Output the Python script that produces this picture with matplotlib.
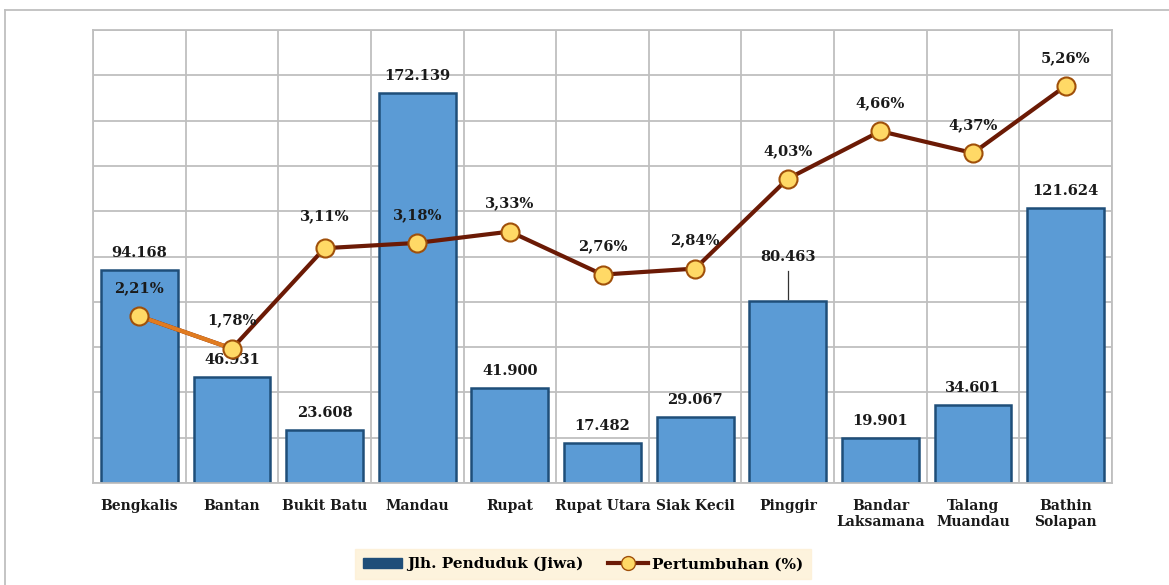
import matplotlib.pyplot as plt
from matplotlib.lines import Line2D
from matplotlib.patches import Patch
import numpy as np

categories = ["Bengkalis", "Bantan", "Bukit Batu", "Mandau", "Rupat", "Rupat Utara",
              "Siak Kecil", "Pinggir", "Bandar\nLaksamana", "Talang\nMuandau", "Bathin\nSolapan"]
penduduk = [94168, 46931, 23608, 172139, 41900, 17482, 29067, 80463, 19901, 34601, 121624]
penduduk_labels = ["94.168", "46.931", "23.608", "172.139", "41.900", "17.482",
                   "29.067", "80.463", "19.901", "34.601", "121.624"]
pertumbuhan = [2.21, 1.78, 3.11, 3.18, 3.33, 2.76, 2.84, 4.03, 4.66, 4.37, 5.26]
pertumbuhan_labels = ["2,21%", "1,78%", "3,11%", "3,18%", "3,33%", "2,76%",
                      "2,84%", "4,03%", "4,66%", "4,37%", "5,26%"]

FONT = "DejaVu Serif"
BAR = "#5b9bd5"
BAR_EDGE = "#1f4e79"
LINE = "#6b1a05"
MARK = "#ffd966"
MARK_EDGE = "#a0500a"

fig = plt.figure(figsize=(11.69, 5.85), dpi=100)
ax = fig.add_axes([93 / 1169, 1 - 483 / 585, (1112 - 93) / 1169, (483 - 30) / 585])
x = np.arange(len(categories))

ax.bar(x, penduduk, width=0.83, color=BAR, edgecolor=BAR_EDGE, linewidth=1.8, zorder=2)
ax.set_xlim(-0.5, len(categories) - 0.5)
ax.set_ylim(0, 200000)
ax.set_yticks(np.arange(0, 200001, 20000))
ax.set_xticks(np.arange(-0.5, len(categories), 1), minor=False)
ax.set_xticklabels([])
ax.tick_params(axis="both", length=0, labelleft=False)
ax.grid(True, color="#bfbfbf", linewidth=1.3, zorder=0)
for s in ax.spines.values():
    s.set_color("#bfbfbf")
    s.set_linewidth(1.3)
for i, c in enumerate(categories):
    ax.text(i, -7000, c, ha="center", va="top", fontsize=10, fontfamily=FONT,
            fontweight="bold", color="#1a1a1a", linespacing=1.2)

# bar value labels (Pinggir raised with leader line)
bar_off = [7500] * len(penduduk)
bar_off[7] = 19500
for i, (v, lab) in enumerate(zip(penduduk, penduduk_labels)):
    ax.text(i, v + bar_off[i], lab, ha="center", va="center", fontsize=10.5,
            fontfamily=FONT, fontweight="bold", color="#1a1a1a", zorder=6)
ax.plot([7, 7], [penduduk[7] + 800, penduduk[7] + 13000], color="#333333", lw=0.9, zorder=3)

ax2 = ax.twinx()
ax2.set_ylim(0, 6)
ax2.set_yticks([])
for s in ax2.spines.values():
    s.set_visible(False)
ax2.plot(x, pertumbuhan, color=LINE, lw=3, zorder=3, solid_capstyle="round")
ax2.plot(x[:2], pertumbuhan[:2], color="#e07b20", lw=3, zorder=3)
ax2.plot(x, pertumbuhan, linestyle="none", marker="o", markersize=13,
         markerfacecolor=MARK, markeredgecolor=MARK_EDGE, markeredgewidth=1.5, zorder=4)
pct_off = [0.37] * len(pertumbuhan)
pct_off[2] = 0.43
for i, (v, lab) in enumerate(zip(pertumbuhan, pertumbuhan_labels)):
    ax2.text(i, v + pct_off[i], lab, ha="center", va="center", fontsize=10.5,
             fontfamily=FONT, fontweight="bold", color="#1a1a1a", zorder=6)

# outer frame (top and left)
fig.add_artist(Line2D([5 / 1169, 1], [1 - 10 / 585] * 2, color="#bfbfbf", lw=1.3))
fig.add_artist(Line2D([5 / 1169] * 2, [0, 1 - 10 / 585], color="#bfbfbf", lw=1.3))

handles = [
    Patch(facecolor=BAR_EDGE, edgecolor=BAR_EDGE),
    Line2D([], [], color=LINE, lw=3, marker="o", markersize=10,
           markerfacecolor=MARK, markeredgecolor=MARK_EDGE),
]
leg = fig.legend(handles, ["Jlh. Penduduk (Jiwa)", "Pertumbuhan (%)"],
                 loc="center", bbox_to_anchor=(583 / 1169, 1 - 564 / 585), ncol=2,
                 frameon=True, fancybox=False, handlelength=2.6, columnspacing=1.6,
                 handletextpad=0.3, borderpad=0.5,
                 prop={"family": FONT, "weight": "bold", "size": 11})
leg.get_frame().set_facecolor("#fdf0d5")
leg.get_frame().set_edgecolor("#fdf0d5")

fig.savefig("out.png", dpi=100)
